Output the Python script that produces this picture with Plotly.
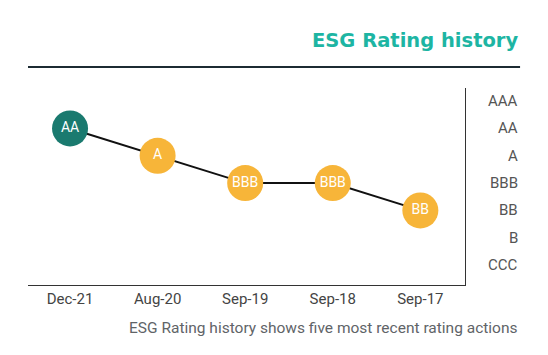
import plotly.graph_objects as go

dates = ["Dec-21", "Aug-20", "Sep-19", "Sep-18", "Sep-17"]
ratings = ["AA", "A", "BBB", "BBB", "BB"]
scale = ["CCC", "B", "BB", "BBB", "A", "AA", "AAA"]
leader = ["AA", "AAA"]

TEAL = "#1a7a6f"
YELLOW = "#f7b539"
FONT = "Roboto, Arial, sans-serif"

yvals = [scale.index(r) for r in ratings]
colors = [TEAL if r in leader else YELLOW for r in ratings]

fig = go.Figure()
fig.add_trace(go.Scatter(
    x=dates, y=yvals, mode="lines+markers+text",
    text=ratings, textposition="middle center",
    textfont=dict(color="white", size=14, family=FONT),
    line=dict(color="#111111", width=2),
    marker=dict(size=36, color=colors, line=dict(width=0)),
    hoverinfo="skip", showlegend=False,
))

for i, lab in enumerate(scale):
    fig.add_annotation(x=1.126, xref="paper", y=i, yref="y", text=lab,
                       showarrow=False, xanchor="right",
                       font=dict(size=15, color="#555555", family=FONT))

fig.add_annotation(x=1.126, xref="paper", y=1.24, yref="paper",
                   text="<b>ESG Rating history</b>", showarrow=False,
                   xanchor="right", yanchor="middle",
                   font=dict(size=19.5, color="#1db5a3", family="DejaVu Sans, sans-serif"))
fig.add_annotation(x=1.126, xref="paper", y=-0.22, yref="paper",
                   text="ESG Rating history shows five most recent rating actions",
                   showarrow=False, xanchor="right", yanchor="middle",
                   font=dict(size=15.5, color="#5f6468", family=FONT))
fig.add_shape(type="line", xref="paper", yref="paper", x0=0, x1=1.126,
              y0=1.1066, y1=1.1066, line=dict(color="#1c2b33", width=2))

fig.update_layout(
    width=548, height=355,
    margin=dict(l=28, r=83, t=88, b=70),
    paper_bgcolor="white", plot_bgcolor="white",
    font=dict(family=FONT, color="#333333"),
    xaxis=dict(type="category", range=[-0.48, 4.51], showgrid=False, zeroline=False,
               showline=True, linecolor="#333333", linewidth=1, ticks="",
               tickfont=dict(size=15, color="#444444")),
    yaxis=dict(range=[-0.73, 6.48], side="right", showgrid=False, zeroline=False,
               showline=True, linecolor="#333333", linewidth=1,
               showticklabels=False, ticks=""),
)

fig.write_html("out.html")
